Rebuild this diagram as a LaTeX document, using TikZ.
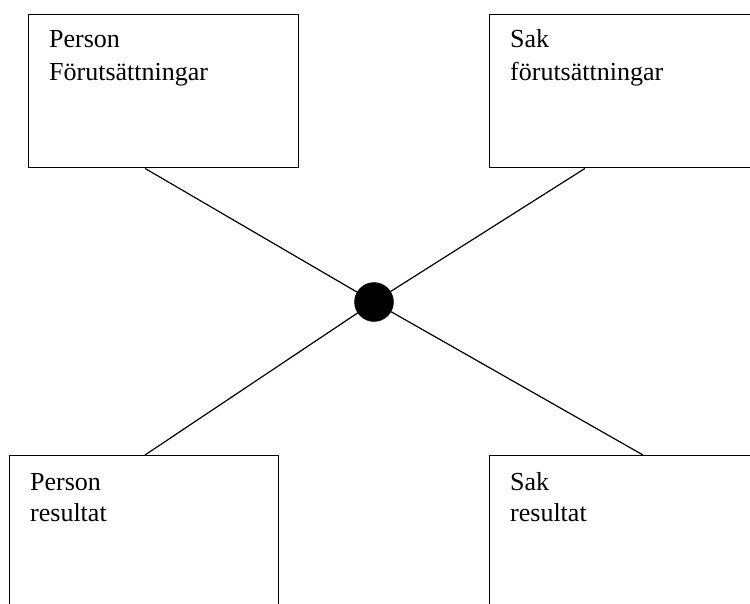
\documentclass[tikz,border=0pt]{standalone}
\usepackage{fontspec}
\setmainfont{Liberation Serif}
\begin{document}
\begin{tikzpicture}[x=1pt,y=-1pt,
  box/.style={draw,line width=1.4pt,rectangle,inner sep=0pt},
  conn/.style={line width=1.2pt},
  lbl/.style={anchor=base west,inner sep=0pt,font=\fontsize{26}{32}\selectfont},
  hub/.style={circle,fill=black,draw=black,minimum size=39pt,inner sep=0pt}]
\useasboundingbox (0,0) rectangle (750,603);
\clip (0,0) rectangle (750,603);
\node[box,minimum width=270pt,minimum height=153.5pt,anchor=north west] (tl) at (28,13.5) {};
\node[box,minimum width=300pt,minimum height=153.5pt,anchor=north west] (tr) at (489,13.5) {};
\node[box,minimum width=269pt,minimum height=180pt,anchor=north west] (bl) at (9,455) {};
\node[box,minimum width=300pt,minimum height=180pt,anchor=north west] (br) at (489,455) {};
\node[hub] (c) at (374,302) {};
\node[lbl] (t1) at (49,47.5) {Person};
\node[lbl] (t2) at (49,80) {Förutsättningar};
\node[lbl] (t3) at (510,47.5) {Sak};
\node[lbl] (t4) at (510,80) {förutsättningar};
\node[lbl] (t5) at (30,490) {Person};
\node[lbl] (t6) at (30,521) {resultat};
\node[lbl] (t7) at (510,490) {Sak};
\node[lbl] (t8) at (510,521) {resultat};
\coordinate (a1) at (tl.south west -| 145,0);
\coordinate (a2) at (tr.south west -| 585,0);
\coordinate (a3) at (bl.north west -| 145,0);
\coordinate (a4) at (br.north west -| 643,0);
\draw[conn] (a1) -- (c);
\draw[conn] (a2) -- (c);
\draw[conn] (a3) -- (c);
\draw[conn] (a4) -- (c);
\end{tikzpicture}
\end{document}
